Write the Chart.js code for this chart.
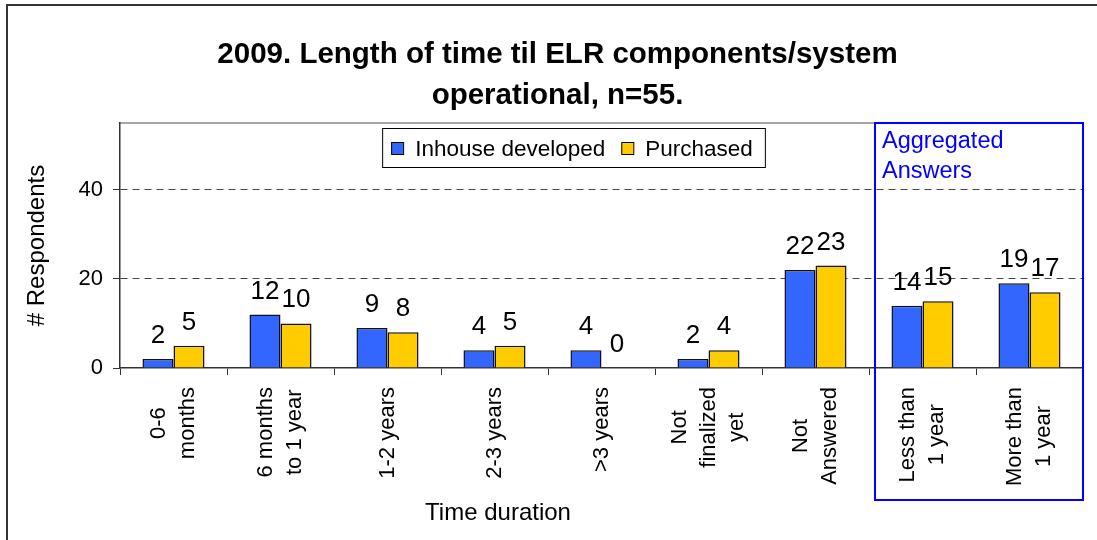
<!DOCTYPE html>
<html>
<head>
<meta charset="utf-8">
<script src="https://cdn.jsdelivr.net/npm/chart.js@4"></script>
<style>
    html, body { margin: 0; padding: 0; background: #fff; overflow: hidden; }
    #wrap { position: relative; width: 1097px; height: 540px; }
</style>
</head>
<body>
<div id="wrap"><canvas id="grafico"></canvas></div>
<script>
// Datos del grafico
const categorias = [
    ['0-6', 'months'],
    ['6 months', 'to 1 year'],
    ['1-2 years'],
    ['2-3 years'],
    ['>3 years'],
    ['Not', 'finalized', 'yet'],
    ['Not', 'Answered'],
    ['Less than', '1 year'],
    ['More than', '1 year']
];
const inhouse = [2, 12, 9, 4, 4, 2, 22, 14, 19];
const purchased = [5, 10, 8, 5, 0, 4, 23, 15, 17];
const yTicks = [0, 20, 40];
const titulo = ['2009. Length of time til ELR components/system', 'operational, n=55.'];
const tituloX = 'Time duration';
const tituloY = '# Respondents';
const agregado = ['Aggregated', 'Answers'];

const FONT = "'Liberation Sans', Arial, sans-serif";

// Dibuja marco, titulos, leyenda, etiquetas de categoria y la caja azul
const decoracion = {
    id: 'decoracion',
    beforeDraw(chart) {
        const ctx = chart.ctx;
        const a = chart.chartArea;
        ctx.save();
        ctx.fillStyle = '#fff';
        ctx.fillRect(0, 0, chart.width, chart.height);
        ctx.strokeStyle = '#333';
        ctx.lineWidth = 2;
        ctx.beginPath();
        ctx.moveTo(7, chart.height);
        ctx.lineTo(7, 5);
        ctx.lineTo(chart.width, 5);
        ctx.stroke();
        ctx.strokeStyle = '#888';
        ctx.lineWidth = 1.5;
        ctx.beginPath();
        ctx.moveTo(a.left, a.top);
        ctx.lineTo(a.right, a.top);
        ctx.stroke();
        ctx.restore();
    },
    afterDatasetsDraw(chart) {
        // valores sobre las barras
        const ctx = chart.ctx;
        ctx.save();
        ctx.font = '26px ' + FONT;
        ctx.fillStyle = '#000';
        ctx.textAlign = 'center';
        ctx.textBaseline = 'alphabetic';
        chart.data.datasets.forEach((ds, i) => {
            chart.getDatasetMeta(i).data.forEach((bar, j) => {
                ctx.fillText(String(ds.data[j]), bar.x, bar.y - 16);
            });
        });
        ctx.restore();
    },
    afterDraw(chart) {
        const ctx = chart.ctx;
        const a = chart.chartArea;
        const xs = chart.scales.x;
        ctx.save();

        // titulo
        ctx.fillStyle = '#000';
        ctx.textAlign = 'center';
        ctx.font = 'bold 29.5px ' + FONT;
        ctx.fillText(titulo[0], 557.5, 63);
        ctx.fillText(titulo[1], 557.5, 104);

        // titulo eje x
        ctx.font = '24px ' + FONT;
        ctx.fillText(tituloX, 498, 520);

        // etiquetas de categoria (giradas, lineas centradas)
        ctx.font = '22px ' + FONT;
        ctx.textBaseline = 'middle';
        const lh = 28.5;
        categorias.forEach((lineas, i) => {
            const x = xs.getPixelForTick(i);
            const maxW = Math.max(...lineas.map(l => ctx.measureText(l).width));
            ctx.save();
            ctx.translate(x, a.bottom + 19);
            ctx.rotate(-Math.PI / 2);
            lineas.forEach((l, k) => {
                ctx.fillText(l, -maxW / 2, (k - (lineas.length - 1) / 2) * lh);
            });
            ctx.restore();
        });

        // leyenda
        ctx.font = '22.5px ' + FONT;
        ctx.textAlign = 'left';
        ctx.textBaseline = 'alphabetic';
        const items = chart.data.datasets.map(ds => ({ label: ds.label, color: ds.backgroundColor, w: ctx.measureText(ds.label).width }));
        let total = 9;
        items.forEach(it => { total += 12 + 12 + it.w + 16; });
        total = total - 16 + 12;
        const lx = 573.5 - total / 2;
        ctx.fillStyle = '#fff';
        ctx.fillRect(lx, 128, total, 39);
        ctx.strokeStyle = '#000';
        ctx.lineWidth = 1;
        ctx.strokeRect(lx + 0.5, 128.5, total, 39);
        let cx = lx + 9;
        items.forEach(it => {
            ctx.fillStyle = it.color;
            ctx.fillRect(cx, 142, 12, 12);
            ctx.strokeStyle = '#000';
            ctx.strokeRect(cx + 0.5, 142.5, 12, 12);
            ctx.fillStyle = '#000';
            ctx.fillText(it.label, cx + 24, 156);
            cx += 24 + it.w + 16;
        });

        // caja de respuestas agregadas
        const bx = (xs.getPixelForTick(6) + xs.getPixelForTick(7)) / 2 + 6;
        ctx.strokeStyle = '#0000ff';
        ctx.lineWidth = 2;
        ctx.strokeRect(bx, a.top, a.right - bx, 500 - a.top);
        ctx.fillStyle = '#0000ff';
        ctx.font = '23.5px ' + FONT;
        ctx.fillText(agregado[0], bx + 7, 148);
        ctx.fillText(agregado[1], bx + 7, 178);

        ctx.restore();
    }
};

const getGrafic = document.getElementById('grafico').getContext('2d');
const myChart = new Chart(getGrafic, {
    type: 'bar',
    data: {
        labels: categorias,
        datasets: [{
            label: 'Inhouse developed',
            data: inhouse,
            backgroundColor: '#3366ff',
            borderColor: '#111',
            borderWidth: 1.5
        }, {
            label: 'Purchased',
            data: purchased,
            backgroundColor: '#ffcc00',
            borderColor: '#111',
            borderWidth: 1.5
        }]
    },
    options: {
        responsive: true,
        maintainAspectRatio: false,
        animation: false,
        devicePixelRatio: 1,
        layout: { padding: { top: 123, right: 14, left: 0, bottom: 0 } },
        datasets: {
            bar: { categoryPercentage: 0.58, barPercentage: 1.0 }
        },
        plugins: {
            legend: { display: false },
            title: { display: false },
            tooltip: { enabled: false }
        },
        scales: {
            x: {
                ticks: { display: false },
                grid: {
                    offset: true,
                    drawOnChartArea: false,
                    drawTicks: true,
                    tickLength: 7,
                    color: '#333'
                },
                border: { display: true, color: '#333', width: 1.5 },
                afterFit(scale) { scale.height = 172; }
            },
            y: {
                min: 0,
                max: 55,
                afterBuildTicks(scale) { scale.ticks = yTicks.map(v => ({ value: v })); },
                ticks: {
                    font: { family: FONT, size: 22 },
                    color: '#000',
                    padding: 10
                },
                grid: {
                    color: (c) => (c.tick && c.tick.value === 0) ? 'rgba(0,0,0,0)' : '#444',
                    tickColor: '#333',
                    tickLength: 7,
                    lineWidth: 1
                },
                border: { display: true, color: '#333', width: 1.5, dash: [7, 5] },
                title: {
                    display: true,
                    text: tituloY,
                    color: '#000',
                    font: { family: FONT, size: 24 },
                    padding: { top: 23, bottom: 0 }
                },
                afterFit(scale) { scale.width = 120; }
            }
        }
    },
    plugins: [decoracion]
});
</script>
</body>
</html>
